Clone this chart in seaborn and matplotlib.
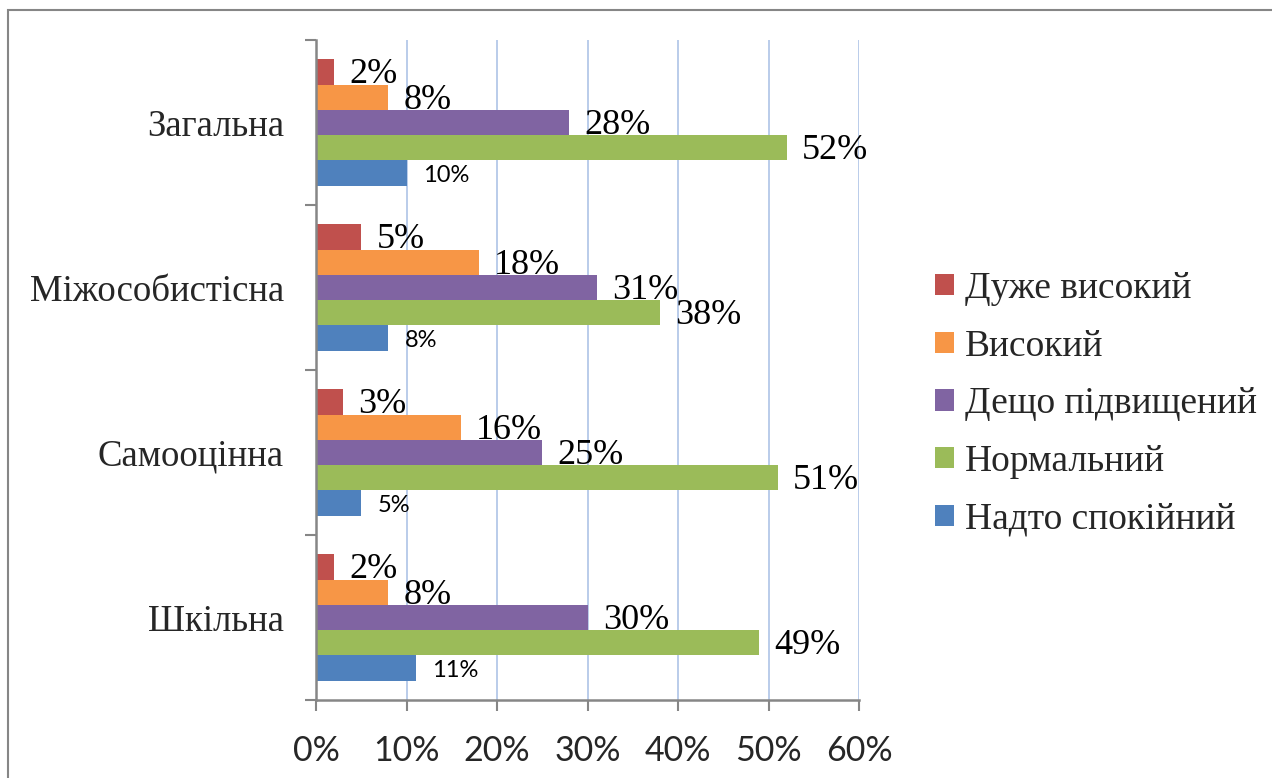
import matplotlib
matplotlib.use("Agg")
import matplotlib.pyplot as plt
import seaborn as sns
import pandas as pd
from matplotlib.patches import Patch, Rectangle

categories = ["Загальна", "Міжособистісна", "Самооцінна", "Шкільна"]
levels = ["Дуже високий", "Високий", "Дещо підвищений", "Нормальний", "Надто спокійний"]
duzhe_vysokyi = [2, 5, 3, 2]
vysokyi = [8, 18, 16, 8]
deshcho_pidvyshchenyi = [28, 31, 25, 30]
normalnyi = [52, 38, 51, 49]
nadto_spokiinyi = [10, 8, 5, 11]
x_ticks = [0, 10, 20, 30, 40, 50, 60]

colors = ["#C0504D", "#F79646", "#8064A2", "#9BBB59", "#4F81BD"]
serif = ["Liberation Serif", "DejaVu Serif"]
sans = ["Lato", "DejaVu Sans"]
axis_gray = "#868686"

series = [duzhe_vysokyi, vysokyi, deshcho_pidvyshchenyi, normalnyi, nadto_spokiinyi]
rows = []
for level, vals in zip(levels, series):
    for cat, v in zip(categories, vals):
        rows.append({"category": cat, "level": level, "value": v})
df = pd.DataFrame(rows)

sns.set_theme(style="white")
plt.rcParams["font.family"] = serif

fig = plt.figure(figsize=(12.72, 7.78), dpi=100)
ax = fig.add_axes([316 / 1272, 1 - 700 / 778, (859 - 316) / 1272, (700 - 40) / 778])

sns.barplot(data=df, y="category", x="value", hue="level", order=categories,
            hue_order=levels, palette=colors, orient="h", width=0.765,
            saturation=1, errorbar=None, linewidth=0, legend=False, ax=ax)

# data labels: big serif for most series, small sans for the last one
for i, cont in enumerate(ax.containers):
    vals = series[i]
    if i == len(ax.containers) - 1:
        texts = ax.bar_label(cont, labels=[f"{v}%" for v in vals], padding=12,
                             fontsize=17, family=sans, color="black")
    else:
        texts = ax.bar_label(cont, labels=[f"{v}%" for v in vals], padding=11,
                             fontsize=26, family=serif, color="black")
    for t in texts:
        x0, y0 = t.xyann
        t.xyann = (x0, y0 - 2)

ax.set_xlim(0, 60)
ax.set_ylim(3.5, -0.5)
ax.set_xticks(x_ticks)
ax.set_xticklabels([f"{t}%" for t in x_ticks], fontsize=24.5, family=sans)
ax.set_yticks(range(len(categories)))
ax.set_yticklabels(categories, fontsize=26.5, family=serif)
ax.set_yticks([-0.5, 0.5, 1.5, 2.5, 3.5], minor=True)
ax.tick_params(axis="y", which="major", length=0, pad=23)
ax.tick_params(axis="y", which="minor", left=True, length=8, width=1.5,
               color=axis_gray, direction="out")
ax.tick_params(axis="x", bottom=True, length=8, width=1.5, color=axis_gray,
               direction="out", pad=17)
ax.set_xlabel("")
ax.set_ylabel("")

ax.xaxis.grid(True, color="#B4C8E8", linewidth=1.3)
ax.yaxis.grid(False)
ax.set_axisbelow(True)
for side in ["top", "right"]:
    ax.spines[side].set_visible(False)
for side in ["left", "bottom"]:
    ax.spines[side].set_color(axis_gray)
    ax.spines[side].set_linewidth(1.8)

handles = [Patch(facecolor=c, edgecolor="none") for c in colors]
fig.legend(handles, levels, loc="center left",
           bbox_to_anchor=(935 / 1272, 1 - 404 / 778), frameon=False,
           prop={"family": serif, "size": 27},
           handlelength=0.5, handleheight=0.5, handletextpad=0.3,
           labelspacing=0.62, borderpad=0, borderaxespad=0)

# chart frame, cut off at right and bottom like the source
fig.patches.append(Rectangle((8 / 1272, -0.1), 1.2, 1.1 - 10 / 778,
                             transform=fig.transFigure, fill=False,
                             edgecolor=axis_gray, linewidth=1.5))

fig.savefig("out.png", dpi=100)
